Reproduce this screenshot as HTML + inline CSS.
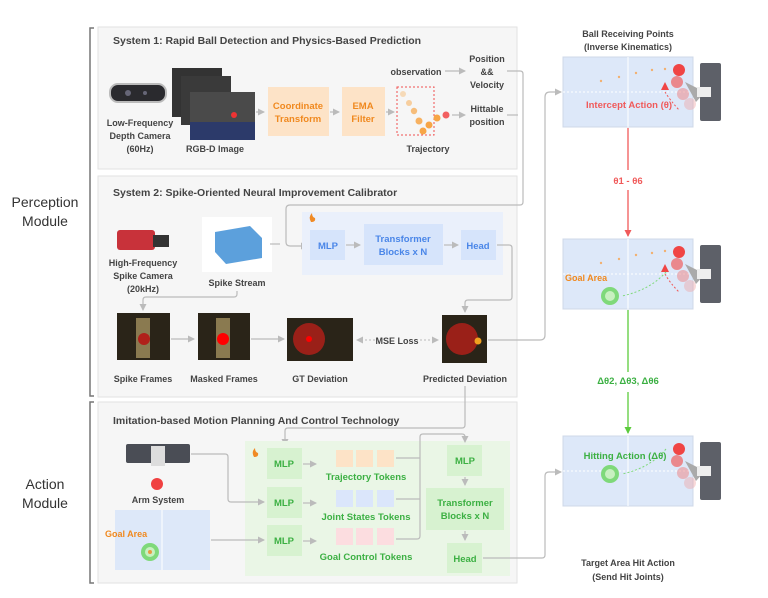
<!DOCTYPE html>
<html><head><meta charset="utf-8"><style>
body{margin:0;background:#fff}
svg{display:block;font-family:"Liberation Sans",sans-serif;font-weight:bold}
</style></head><body>
<svg width="768" height="598" viewBox="0 0 768 598" xmlns="http://www.w3.org/2000/svg">
<defs>
<marker id="ag" markerWidth="8" markerHeight="8" refX="6" refY="4" orient="auto" markerUnits="userSpaceOnUse"><path d="M0,0.5 L7,4 L0,7.5z" fill="#bbb"/></marker>
<marker id="ar" markerWidth="8" markerHeight="8" refX="6" refY="4" orient="auto" markerUnits="userSpaceOnUse"><path d="M0,0.5 L7,4 L0,7.5z" fill="#f05a5a"/></marker>
<marker id="agr" markerWidth="8" markerHeight="8" refX="6" refY="4" orient="auto" markerUnits="userSpaceOnUse"><path d="M0,0.5 L7,4 L0,7.5z" fill="#5ccb3c"/></marker>
</defs>

<!-- module labels & brackets -->
<text x="45" y="207" font-size="14" fill="#333" text-anchor="middle" font-weight="normal">Perception</text>
<text x="45" y="226" font-size="14" fill="#333" text-anchor="middle" font-weight="normal">Module</text>
<text x="45" y="489" font-size="14" fill="#333" text-anchor="middle" font-weight="normal">Action</text>
<text x="45" y="508" font-size="14" fill="#333" text-anchor="middle" font-weight="normal">Module</text>
<path d="M94,28 H90 V396 H94" fill="none" stroke="#777" stroke-width="1.5"/>
<path d="M94,402 H90 V583 H94" fill="none" stroke="#777" stroke-width="1.5"/>

<!-- panels -->
<rect x="98" y="27" width="419" height="142" fill="#f6f6f6" stroke="#e2e2e2"/>
<rect x="98" y="176" width="419" height="221" fill="#f6f6f6" stroke="#e2e2e2"/>
<rect x="98" y="402" width="419" height="181" fill="#f6f6f6" stroke="#e2e2e2"/>
<g font-size="10.5" fill="#444">
<text x="113" y="44">System 1: Rapid Ball Detection and Physics-Based Prediction</text>
<text x="113" y="196">System 2: Spike-Oriented Neural Improvement Calibrator</text>
<text x="113" y="424">Imitation-based Motion Planning And Control Technology</text>
</g>

<!-- System 1 -->
<rect x="110" y="84" width="56" height="18" rx="8" fill="#2a2a2e" stroke="#bbb" stroke-width="2"/>
<circle cx="128" cy="93" r="3" fill="#667"/><circle cx="145" cy="93" r="2" fill="#667"/>
<rect x="172" y="68" width="50" height="49" fill="#333"/>
<rect x="181" y="76" width="50" height="49" fill="#3a3a3a"/>
<rect x="190" y="92" width="65" height="48" fill="#4a4a4a"/>
<rect x="190" y="122" width="65" height="18" fill="#2c3a6a"/>
<circle cx="234" cy="115" r="3" fill="#e33"/>
<g font-size="9" fill="#444" text-anchor="middle">
<text x="140" y="126">Low-Frequency</text><text x="140" y="139">Depth Camera</text><text x="140" y="152">(60Hz)</text>
<text x="215" y="152">RGB-D Image</text>
<text x="428" y="152">Trajectory</text>
<text x="416" y="75">observation</text>
<text x="487" y="62">Position</text><text x="487" y="75">&amp;&amp;</text><text x="487" y="88">Velocity</text>
<text x="487" y="112">Hittable</text><text x="487" y="125">position</text>
</g>
<rect x="268" y="87" width="61" height="49" fill="#fde3c7"/>
<rect x="342" y="87" width="43" height="49" fill="#fde3c7"/>
<g font-size="9.5" fill="#f0891f" text-anchor="middle">
<text x="298" y="109">Coordinate</text><text x="298" y="122">Transform</text>
<text x="363" y="109">EMA</text><text x="363" y="122">Filter</text>
</g>
<rect x="397" y="87" width="37" height="48" fill="none" stroke="#f05050" stroke-dasharray="2,2"/>
<g fill="#f7a546"><circle cx="403" cy="94" r="3" opacity=".35"/><circle cx="409" cy="103" r="3" opacity=".5"/><circle cx="414" cy="111" r="3.2" opacity=".7"/><circle cx="419" cy="121" r="3.5" opacity=".85"/><circle cx="423" cy="131" r="3.5"/><circle cx="429" cy="125" r="3.5"/><circle cx="437" cy="118" r="3.5"/></g>
<circle cx="446" cy="115" r="3.5" fill="#f26060"/>
<g stroke="#bbb" stroke-width="1.2" fill="none">
<path d="M256,112 H264" marker-end="url(#ag)"/>
<path d="M330,112 H339" marker-end="url(#ag)"/>
<path d="M386,112 H394" marker-end="url(#ag)"/>
<path d="M445,71 H465" marker-end="url(#ag)"/>
<path d="M452,115 H465" marker-end="url(#ag)"/>
<path d="M507,71 H520 Q523,71 523,74 V202 Q523,205 520,205 H290 Q286,205 286,209 V242 Q286,246 290,246 H307" marker-end="url(#ag)"/>
<path d="M507,115 H518"/>
</g>

<!-- System 2 -->
<rect x="302" y="212" width="201" height="63" fill="#eaf0fb"/>
<path d="M311,222 q-3,-5 1,-9 q0,4 3,5 q1,4 -4,4z" fill="#f08a24"/>
<rect x="310" y="230" width="35" height="30" fill="#d6e4fb"/>
<rect x="364" y="224" width="79" height="41" fill="#d6e4fb"/>
<rect x="461" y="230" width="35" height="30" fill="#d6e4fb"/>
<g font-size="9.5" fill="#4a86e8" text-anchor="middle">
<text x="328" y="249">MLP</text>
<text x="403" y="242">Transformer</text><text x="403" y="255">Blocks x N</text>
<text x="478" y="249">Head</text>
</g>
<rect x="117" y="230" width="38" height="20" rx="3" fill="#c8323a"/>
<rect x="153" y="235" width="16" height="12" fill="#333"/>
<rect x="202" y="217" width="70" height="55" fill="#fff"/>
<path d="M215,232 L250,226 L262,238 L262,258 L226,264 L215,252z" fill="#3f8fd6" opacity=".85"/>
<g font-size="9" fill="#444" text-anchor="middle">
<text x="143" y="266">High-Frequency</text><text x="143" y="279">Spike Camera</text><text x="143" y="292">(20kHz)</text>
<text x="237" y="286">Spike Stream</text>
<text x="143" y="382">Spike Frames</text>
<text x="224" y="382">Masked Frames</text>
<text x="320" y="382">GT Deviation</text>
<text x="465" y="382">Predicted Deviation</text>
<text x="397" y="344">MSE Loss</text>
</g>
<rect x="117" y="313" width="53" height="47" fill="#2a2418"/><rect x="136" y="318" width="14" height="40" fill="#8a7a50"/><circle cx="144" cy="339" r="6" fill="#b0201a"/>
<rect x="198" y="313" width="52" height="47" fill="#2a2418"/><rect x="216" y="318" width="14" height="40" fill="#8a7a50"/><circle cx="223" cy="339" r="6" fill="#f00"/>
<rect x="287" y="318" width="66" height="43" fill="#2a2418"/><circle cx="309" cy="339" r="16" fill="#9a2018"/><circle cx="309" cy="339" r="3" fill="#f00"/>
<rect x="442" y="315" width="45" height="48" fill="#2a2418"/><circle cx="462" cy="339" r="16" fill="#9a2018"/><circle cx="478" cy="341" r="3.5" fill="#f0a020"/>
<g stroke="#bbb" stroke-width="1.2" fill="none">
<path d="M270,244 H280"/>
<path d="M346,245 H360" marker-end="url(#ag)"/>
<path d="M444,245 H458" marker-end="url(#ag)"/>
<path d="M497,245 H509 Q512,245 512,248 V297 Q512,300 509,300 H468 Q465,300 465,303 V312" marker-end="url(#ag)"/>
<path d="M237,291 V294 Q237,297 234,297 H146 Q143,297 143,300 V310" marker-end="url(#ag)"/>
<path d="M171,339 H194" marker-end="url(#ag)"/>
<path d="M251,339 H284" marker-end="url(#ag)"/>
<path d="M488,340 H540 Q545,340 545,335 V97 Q545,92 550,92 H561" marker-end="url(#ag)"/>
<path d="M465,386 V425 Q465,428 462,428 H288 Q285,428 285,431 V445" marker-end="url(#ag)"/>
</g>
<path d="M375,340 H357" stroke="#bbb" stroke-dasharray="2,2" marker-end="url(#ag)"/>
<path d="M420,340 H438" stroke="#bbb" stroke-dasharray="2,2" marker-end="url(#ag)"/>

<!-- Action -->
<rect x="245" y="441" width="265" height="135" fill="#eaf6e6"/>
<path d="M254,457 q-3,-5 1,-9 q0,4 3,5 q1,4 -4,4z" fill="#f08a24"/>
<rect x="126" y="444" width="64" height="19" rx="2" fill="#4a4d55"/>
<rect x="151" y="446" width="14" height="20" fill="#ddd"/>
<circle cx="157" cy="484" r="6" fill="#f04040"/>
<text x="158" y="503" font-size="9" fill="#444" text-anchor="middle">Arm System</text>
<rect x="115" y="510" width="95" height="60" fill="#dde8f9"/><line x1="162" y1="510" x2="162" y2="570" stroke="#fff"/>
<text x="105" y="537" font-size="9" fill="#f0891f">Goal Area</text>
<circle cx="150" cy="552" r="9" fill="#7fd97a"/><circle cx="150" cy="552" r="5" fill="#c8f0c0"/><circle cx="150" cy="552" r="2" fill="#e89a40"/>
<g fill="#d7f2d0">
<rect x="267" y="448" width="35" height="31"/><rect x="267" y="487" width="35" height="31"/><rect x="267" y="525" width="35" height="31"/>
<rect x="447" y="445" width="35" height="31"/><rect x="426" y="488" width="78" height="42"/><rect x="447" y="543" width="35" height="30"/>
</g>
<g fill="#fde3c7"><rect x="336" y="450" width="17" height="17"/><rect x="356" y="450" width="17" height="17"/><rect x="377" y="450" width="17" height="17"/></g>
<g fill="#dbe6fb"><rect x="336" y="490" width="17" height="17"/><rect x="356" y="490" width="17" height="17"/><rect x="377" y="490" width="17" height="17"/></g>
<g fill="#fcdde0"><rect x="336" y="528" width="17" height="17"/><rect x="356" y="528" width="17" height="17"/><rect x="377" y="528" width="17" height="17"/></g>
<g font-size="9.5" fill="#3cb043" text-anchor="middle">
<text x="284" y="467">MLP</text><text x="284" y="506">MLP</text><text x="284" y="544">MLP</text>
<text x="465" y="464">MLP</text>
<text x="465" y="506">Transformer</text><text x="465" y="519">Blocks x N</text>
<text x="465" y="562">Head</text>
<text x="366" y="480">Trajectory Tokens</text>
<text x="366" y="520">Joint States Tokens</text>
<text x="366" y="560">Goal Control Tokens</text>
</g>
<g stroke="#bbb" stroke-width="1.2" fill="none">
<path d="M191,454 H225 Q228,454 228,457 V499 Q228,502 231,502 H264" marker-end="url(#ag)"/>
<path d="M211,540 H264" marker-end="url(#ag)"/>
<path d="M303,464 H316" marker-end="url(#ag)"/><path d="M303,503 H316" marker-end="url(#ag)"/><path d="M303,541 H316" marker-end="url(#ag)"/>
<path d="M396,458 H420"/><path d="M396,499 H420"/>
<path d="M396,539 H417 Q420,539 420,536 V437 Q420,434 423,434 H462 Q465,434 465,437 V442" marker-end="url(#ag)"/>
<path d="M465,477 V485" marker-end="url(#ag)"/>
<path d="M465,531 V540" marker-end="url(#ag)"/>
<path d="M483,558 H542 Q545,558 545,555 V476 Q545,472 549,472 H561" marker-end="url(#ag)"/>
</g>

<!-- right column -->
<g font-size="9" fill="#444" text-anchor="middle">
<text x="628" y="37">Ball Receiving Points</text><text x="628" y="50">(Inverse Kinematics)</text>
<text x="628" y="566">Target Area Hit Action</text><text x="628" y="580">(Send Hit Joints)</text>
</g>
<g id="p1">
<rect x="563" y="57" width="130" height="70" fill="#dde8f9" stroke="#cfd8e8"/>
<line x1="628" y1="57" x2="628" y2="127" stroke="#fff"/>
<line x1="563" y1="92" x2="693" y2="92" stroke="#fff" stroke-dasharray="2,2"/>
<rect x="700" y="63" width="21" height="58" rx="2" fill="#5d6068"/>
<circle cx="679" cy="70" r="6" fill="#f04545"/><circle cx="677" cy="82" r="6" fill="#f06060" opacity=".7"/><circle cx="683" cy="94" r="6" fill="#f08080" opacity=".5"/><circle cx="690" cy="104" r="6" fill="#f0a0a0" opacity=".4"/>
<path d="M685,82 L705,92 L696,102z" fill="#aaa"/><rect x="697" y="87" width="14" height="10" fill="#eee"/>
</g>
<g fill="#f2b070"><circle cx="601" cy="81" r="1.2"/><circle cx="619" cy="77" r="1.2"/><circle cx="636" cy="73" r="1.2"/><circle cx="652" cy="70" r="1.2"/><circle cx="665" cy="69" r="1.2"/></g>
<path d="M665,82 L661,90 L669,90z" fill="#f04545"/>
<path d="M665,92 Q670,100 679,110" stroke="#f05a5a" fill="none" stroke-dasharray="2,2"/>
<text x="629" y="108" font-size="9.5" fill="#f05a5a" text-anchor="middle">Intercept Action (θ)</text>

<use href="#p1" y="182"/>
<g fill="#f2b070"><circle cx="601" cy="263" r="1.2"/><circle cx="619" cy="259" r="1.2"/><circle cx="636" cy="255" r="1.2"/><circle cx="652" cy="253" r="1.2"/><circle cx="665" cy="251" r="1.2"/></g>
<path d="M665,264 L661,272 L669,272z" fill="#f04545"/>
<path d="M665,274 Q670,283 679,292" stroke="#f05a5a" fill="none" stroke-dasharray="2,2"/>
<path d="M666,272 Q650,290 622,296" stroke="#7fd97a" fill="none" stroke-dasharray="2,2"/>
<circle cx="610" cy="296" r="9" fill="#7fd97a"/><circle cx="610" cy="296" r="5" fill="#c8f0c0"/>
<text x="565" y="281" font-size="9" fill="#f0891f">Goal Area</text>

<use href="#p1" y="379"/>
<path d="M666,449 Q650,468 622,474" stroke="#7fd97a" fill="none" stroke-dasharray="2,2"/>
<circle cx="610" cy="474" r="9" fill="#7fd97a"/><circle cx="610" cy="474" r="5" fill="#c8f0c0"/>
<text x="625" y="459" font-size="9.5" fill="#3cb043" text-anchor="middle">Hitting Action (Δθ)</text>

<line x1="628" y1="128" x2="628" y2="170" stroke="#f05a5a" stroke-width="1.3"/>
<line x1="628" y1="190" x2="628" y2="236" stroke="#f05a5a" stroke-width="1.3" marker-end="url(#ar)"/>
<text x="628" y="184" font-size="9.5" fill="#f05a5a" text-anchor="middle">θ1 - θ6</text>
<line x1="628" y1="310" x2="628" y2="372" stroke="#5ccb3c" stroke-width="1.3"/>
<line x1="628" y1="392" x2="628" y2="433" stroke="#5ccb3c" stroke-width="1.3" marker-end="url(#agr)"/>
<text x="628" y="384" font-size="9.5" fill="#3cb043" text-anchor="middle">Δθ2, Δθ3, Δθ6</text>
</svg>
</body></html>
